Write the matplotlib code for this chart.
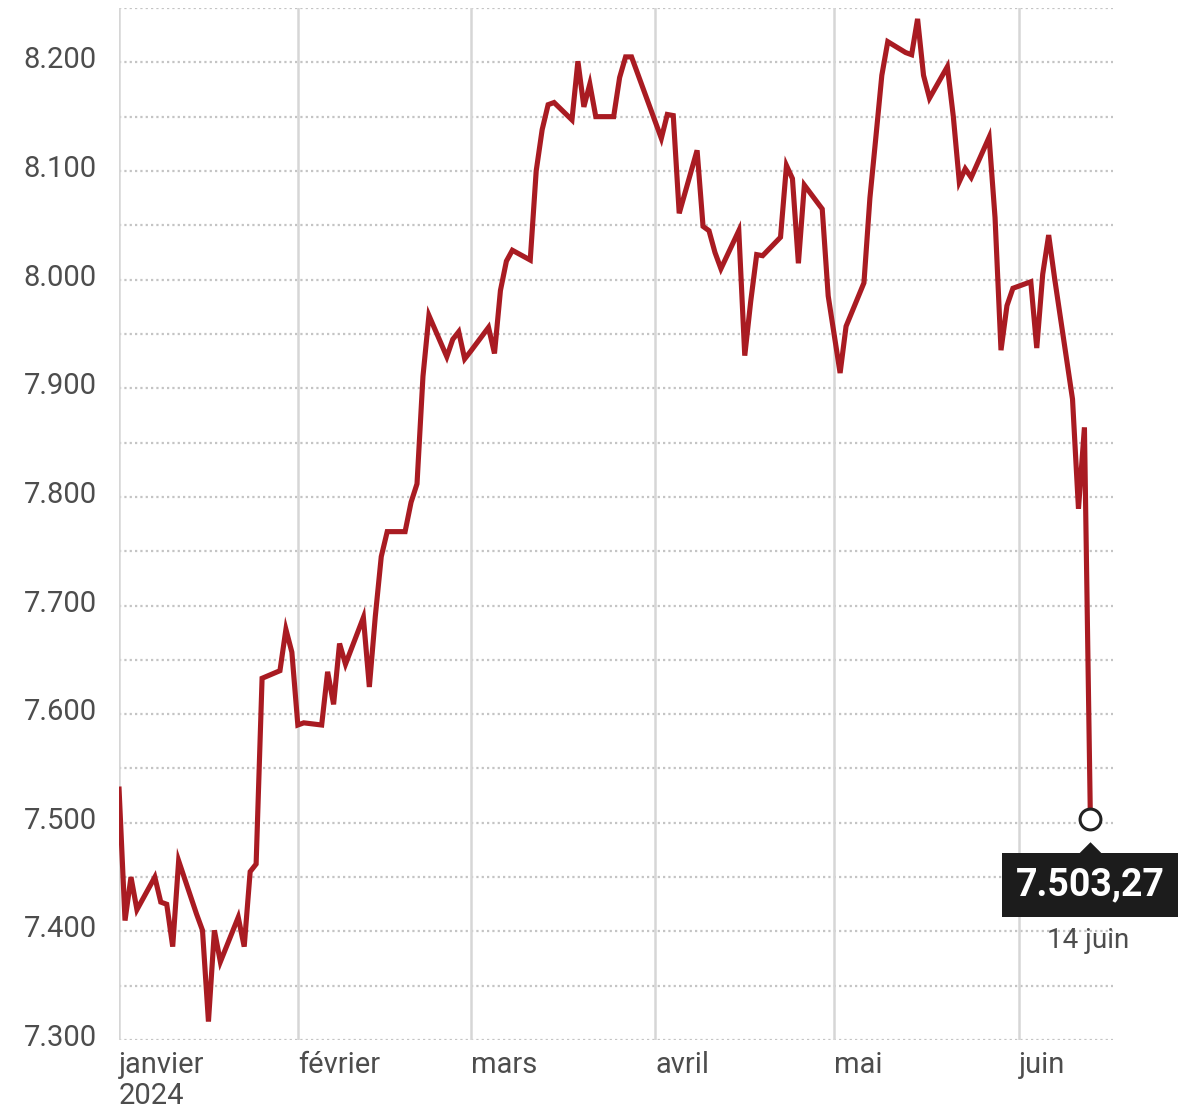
import numpy as np
import matplotlib
matplotlib.use("Agg")
import matplotlib.pyplot as plt
import matplotlib.dates as mdates
from matplotlib.transforms import ScaledTranslation

plt.rcParams['font.family'] = ['Roboto', 'DejaVu Sans']

# CAC 40 daily closes, 2024
dates = [
    "2024-01-02", "2024-01-03", "2024-01-04", "2024-01-05", "2024-01-08",
    "2024-01-09", "2024-01-10", "2024-01-11", "2024-01-12", "2024-01-15",
    "2024-01-16", "2024-01-17", "2024-01-18", "2024-01-19", "2024-01-22",
    "2024-01-23", "2024-01-24", "2024-01-25", "2024-01-26", "2024-01-29",
    "2024-01-30", "2024-01-31", "2024-02-01", "2024-02-02", "2024-02-05",
    "2024-02-06", "2024-02-07", "2024-02-08", "2024-02-09", "2024-02-12",
    "2024-02-13", "2024-02-14", "2024-02-15", "2024-02-16", "2024-02-19",
    "2024-02-20", "2024-02-21", "2024-02-22", "2024-02-23", "2024-02-26",
    "2024-02-27", "2024-02-28", "2024-02-29", "2024-03-01", "2024-03-04",
    "2024-03-05", "2024-03-06", "2024-03-07", "2024-03-08", "2024-03-11",
    "2024-03-12", "2024-03-13", "2024-03-14", "2024-03-15", "2024-03-18",
    "2024-03-19", "2024-03-20", "2024-03-21", "2024-03-22", "2024-03-25",
    "2024-03-26", "2024-03-27", "2024-03-28", "2024-04-02", "2024-04-03",
    "2024-04-04", "2024-04-05", "2024-04-08", "2024-04-09", "2024-04-10",
    "2024-04-11", "2024-04-12", "2024-04-15", "2024-04-16", "2024-04-17",
    "2024-04-18", "2024-04-19", "2024-04-22", "2024-04-23", "2024-04-24",
    "2024-04-25", "2024-04-26", "2024-04-29", "2024-04-30", "2024-05-02",
    "2024-05-03", "2024-05-06", "2024-05-07", "2024-05-08", "2024-05-09",
    "2024-05-10", "2024-05-13", "2024-05-14", "2024-05-15", "2024-05-16",
    "2024-05-17", "2024-05-20", "2024-05-21", "2024-05-22", "2024-05-23",
    "2024-05-24", "2024-05-27", "2024-05-28", "2024-05-29", "2024-05-30",
    "2024-05-31", "2024-06-03", "2024-06-04", "2024-06-05", "2024-06-06",
    "2024-06-07", "2024-06-10", "2024-06-11", "2024-06-12", "2024-06-13",
]
closes = [
    7531, 7410, 7450, 7420, 7450,
    7427, 7425, 7386, 7465, 7416,
    7401, 7317, 7401, 7372, 7413,
    7386, 7455, 7462, 7633, 7640,
    7678, 7657, 7590, 7592, 7590,
    7639, 7609, 7665, 7646, 7689,
    7625, 7690, 7745, 7768, 7768,
    7795, 7812, 7911, 7967, 7929,
    7945, 7952, 7927, 7934, 7956,
    7932, 7990, 8017, 8027, 8018,
    8100, 8138, 8161, 8163, 8147,
    8201, 8159, 8180, 8150, 8150,
    8186, 8205, 8205, 8130, 8152,
    8151, 8061, 8119, 8049, 8045,
    8025, 8010, 8045, 7930, 7980,
    8023, 8022, 8039, 8105, 8093,
    8015, 8087, 8065, 7985, 7914,
    7957, 7997, 8075, 8131, 8188,
    8219, 8209, 8207, 8240, 8188,
    8167, 8196, 8150, 8090, 8102,
    8094, 8131, 8057, 7935, 7976,
    7992, 7998, 7937, 8005, 8041,
    8001, 7890, 7789, 7864, 7503.27,
]

y_ticks = [7300, 7400, 7500, 7600, 7700, 7800, 7900, 8000, 8100, 8200]
y_labels = ["7.300", "7.400", "7.500", "7.600", "7.700",
            "7.800", "7.900", "8.000", "8.100", "8.200"]
month_starts = ["2024-02-01", "2024-03-01", "2024-04-01", "2024-05-01", "2024-06-01"]
month_labels = ["janvier\n2024", "février", "mars", "avril", "mai", "juin"]
last_value_label = "7.503,27"
last_date_label = "14 juin"

RED = "#a91b22"
GREY_TXT = "#4d4d4d"

x = mdates.date2num(np.array(dates, dtype="datetime64[D]"))
x_months = mdates.date2num(np.array(month_starts, dtype="datetime64[D]"))
x0 = x[0]
x1 = x0 + 166.8

fig = plt.figure(figsize=(11.99, 11.12), dpi=100)
ax = fig.add_axes([0.0993, 0.0647, 0.9283 - 0.0993, 0.9928 - 0.0647])

# dotted horizontal grid every 50 points
for v in np.arange(7300, 8251, 50):
    ax.axhline(v, color="#c4c4c4", lw=1.6, ls=(0, (1, 1.4)), zorder=1)

# solid vertical lines at the start of each month
for xm in np.concatenate([[x0], x_months]):
    ax.axvline(xm, color="#d6d6d6", lw=1.8, zorder=1)

ax.plot(x, closes, color=RED, lw=3.7, solid_joinstyle="miter", zorder=3)
ax.plot(x[-1], closes[-1], "o", ms=15, mfc="white", mec="#222222", mew=2.2, zorder=5)

ax.set_xlim(x0, x1)
ax.set_ylim(7300, 8250)
for s in ax.spines.values():
    s.set_visible(False)

ax.set_yticks(y_ticks)
ax.set_yticklabels(y_labels, fontsize=21, color=GREY_TXT)
ax.set_xticks(np.concatenate([[x0], x_months]))
ax.set_xticklabels(month_labels, fontsize=21, color=GREY_TXT, ha="left",
                   va="top", linespacing=1.15)
ax.tick_params(axis="both", length=0)
ax.tick_params(axis="y", pad=16)
ax.tick_params(axis="x", pad=8)
up = ScaledTranslation(0, 5 / 100, fig.dpi_scale_trans)
for lbl in ax.get_yticklabels():
    lbl.set_transform(lbl.get_transform() + up)

# value callout under the last point
ax.annotate(last_value_label, (x[-1], closes[-1]), xytext=(0, -66),
            textcoords="offset pixels", ha="center", va="center",
            fontsize=27, fontweight="bold", color="white", zorder=6,
            bbox=dict(boxstyle="square,pad=0.36", fc="#1c1c1c", ec="none"))
pointer = ScaledTranslation(0, -38 / 100, fig.dpi_scale_trans)
ax.plot(x[-1], closes[-1], marker=[(-1, 0), (1, 0), (0, 1), (-1, 0)], ms=22,
        color="#1c1c1c", mew=0, transform=ax.transData + pointer,
        clip_on=False, zorder=6)
ax.annotate(last_date_label, (x[-1], closes[-1]), xytext=(-2, -121),
            textcoords="offset pixels", ha="center", va="center",
            fontsize=20, color=GREY_TXT)

fig.savefig("out.png", dpi=100)
